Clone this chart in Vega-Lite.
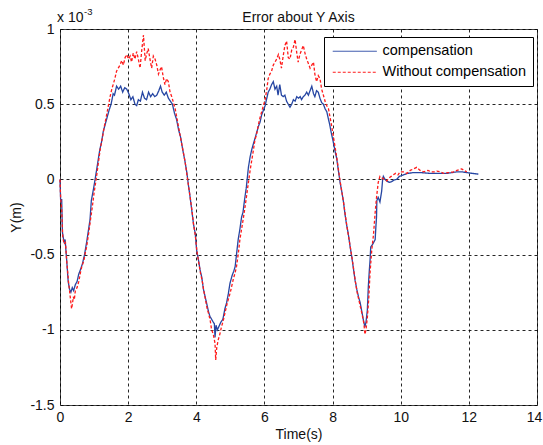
{
  "$schema": "https://vega.github.io/schema/vega-lite/v6.json",
  "width": 477,
  "height": 376,
  "autosize": {"type": "none"},
  "padding": {"left": 60, "top": 29, "right": 6, "bottom": 40},
  "background": "white",
  "title": {"text": "Error about Y Axis", "fontSize": 14, "fontWeight": "normal", "font": "Liberation Sans", "color": "#111", "offset": -18},
  "config": {
    "view": {"stroke": "#444", "strokeWidth": 1},
    "font": "Liberation Sans",
    "axis": {
      "grid": true, "gridDash": [3, 3], "gridColor": "#000", "gridOpacity": 0.85,
      "domain": false, "ticks": false,
      "labelFont": "Liberation Sans", "labelFontSize": 14, "labelColor": "#111",
      "titleFont": "Liberation Sans", "titleFontSize": 14, "titleFontWeight": "normal", "titleColor": "#111",
      "labelFlush": false
    }
  },
  "layer": [
    {
      "data": {"values": [
        {"t":0,"y":0,"s":"compensation"},{"t":0.02,"y":-0.15,"s":"compensation"},{"t":0.05,"y":-0.13,"s":"compensation"},{"t":0.07,"y":-0.35,"s":"compensation"},{"t":0.12,"y":-0.42,"s":"compensation"},{"t":0.15,"y":-0.4,"s":"compensation"},{"t":0.2,"y":-0.55,"s":"compensation"},{"t":0.24,"y":-0.68,"s":"compensation"},{"t":0.28,"y":-0.73,"s":"compensation"},{"t":0.32,"y":-0.75,"s":"compensation"},{"t":0.36,"y":-0.72,"s":"compensation"},{"t":0.4,"y":-0.74,"s":"compensation"},{"t":0.45,"y":-0.7,"s":"compensation"},{"t":0.5,"y":-0.68,"s":"compensation"},{"t":0.55,"y":-0.63,"s":"compensation"},{"t":0.6,"y":-0.6,"s":"compensation"},{"t":0.66,"y":-0.56,"s":"compensation"},{"t":0.72,"y":-0.5,"s":"compensation"},{"t":0.78,"y":-0.42,"s":"compensation"},{"t":0.84,"y":-0.33,"s":"compensation"},{"t":0.88,"y":-0.27,"s":"compensation"},{"t":0.92,"y":-0.14,"s":"compensation"},{"t":0.97,"y":-0.08,"s":"compensation"},{"t":1.03,"y":0,"s":"compensation"},{"t":1.1,"y":0.1,"s":"compensation"},{"t":1.17,"y":0.2,"s":"compensation"},{"t":1.22,"y":0.25,"s":"compensation"},{"t":1.27,"y":0.32,"s":"compensation"},{"t":1.32,"y":0.36,"s":"compensation"},{"t":1.38,"y":0.41,"s":"compensation"},{"t":1.44,"y":0.46,"s":"compensation"},{"t":1.5,"y":0.5,"s":"compensation"},{"t":1.56,"y":0.57,"s":"compensation"},{"t":1.6,"y":0.56,"s":"compensation"},{"t":1.66,"y":0.62,"s":"compensation"},{"t":1.72,"y":0.6,"s":"compensation"},{"t":1.78,"y":0.62,"s":"compensation"},{"t":1.84,"y":0.58,"s":"compensation"},{"t":1.9,"y":0.61,"s":"compensation"},{"t":1.96,"y":0.6,"s":"compensation"},{"t":2.02,"y":0.57,"s":"compensation"},{"t":2.08,"y":0.53,"s":"compensation"},{"t":2.14,"y":0.55,"s":"compensation"},{"t":2.2,"y":0.5,"s":"compensation"},{"t":2.25,"y":0.49,"s":"compensation"},{"t":2.3,"y":0.53,"s":"compensation"},{"t":2.36,"y":0.52,"s":"compensation"},{"t":2.42,"y":0.58,"s":"compensation"},{"t":2.48,"y":0.54,"s":"compensation"},{"t":2.54,"y":0.53,"s":"compensation"},{"t":2.6,"y":0.58,"s":"compensation"},{"t":2.66,"y":0.55,"s":"compensation"},{"t":2.72,"y":0.57,"s":"compensation"},{"t":2.78,"y":0.55,"s":"compensation"},{"t":2.84,"y":0.56,"s":"compensation"},{"t":2.9,"y":0.59,"s":"compensation"},{"t":2.95,"y":0.62,"s":"compensation"},{"t":3.0,"y":0.58,"s":"compensation"},{"t":3.06,"y":0.56,"s":"compensation"},{"t":3.12,"y":0.58,"s":"compensation"},{"t":3.18,"y":0.54,"s":"compensation"},{"t":3.24,"y":0.52,"s":"compensation"},{"t":3.3,"y":0.5,"s":"compensation"},{"t":3.36,"y":0.44,"s":"compensation"},{"t":3.42,"y":0.4,"s":"compensation"},{"t":3.48,"y":0.33,"s":"compensation"},{"t":3.54,"y":0.28,"s":"compensation"},{"t":3.6,"y":0.2,"s":"compensation"},{"t":3.66,"y":0.13,"s":"compensation"},{"t":3.72,"y":0.05,"s":"compensation"},{"t":3.77,"y":-0.04,"s":"compensation"},{"t":3.82,"y":-0.12,"s":"compensation"},{"t":3.87,"y":-0.21,"s":"compensation"},{"t":3.92,"y":-0.3,"s":"compensation"},{"t":3.97,"y":-0.36,"s":"compensation"},{"t":4.01,"y":-0.47,"s":"compensation"},{"t":4.06,"y":-0.53,"s":"compensation"},{"t":4.11,"y":-0.6,"s":"compensation"},{"t":4.16,"y":-0.65,"s":"compensation"},{"t":4.21,"y":-0.73,"s":"compensation"},{"t":4.26,"y":-0.78,"s":"compensation"},{"t":4.31,"y":-0.83,"s":"compensation"},{"t":4.36,"y":-0.88,"s":"compensation"},{"t":4.4,"y":-0.91,"s":"compensation"},{"t":4.45,"y":-0.93,"s":"compensation"},{"t":4.5,"y":-0.95,"s":"compensation"},{"t":4.53,"y":-0.96,"s":"compensation"},{"t":4.55,"y":-1.05,"s":"compensation"},{"t":4.58,"y":-0.97,"s":"compensation"},{"t":4.62,"y":-1.0,"s":"compensation"},{"t":4.66,"y":-0.98,"s":"compensation"},{"t":4.72,"y":-0.95,"s":"compensation"},{"t":4.78,"y":-0.93,"s":"compensation"},{"t":4.84,"y":-0.86,"s":"compensation"},{"t":4.89,"y":-0.82,"s":"compensation"},{"t":4.94,"y":-0.76,"s":"compensation"},{"t":4.99,"y":-0.69,"s":"compensation"},{"t":5.05,"y":-0.64,"s":"compensation"},{"t":5.1,"y":-0.61,"s":"compensation"},{"t":5.14,"y":-0.58,"s":"compensation"},{"t":5.19,"y":-0.48,"s":"compensation"},{"t":5.23,"y":-0.4,"s":"compensation"},{"t":5.28,"y":-0.33,"s":"compensation"},{"t":5.33,"y":-0.25,"s":"compensation"},{"t":5.37,"y":-0.22,"s":"compensation"},{"t":5.42,"y":-0.13,"s":"compensation"},{"t":5.47,"y":-0.05,"s":"compensation"},{"t":5.53,"y":0.08,"s":"compensation"},{"t":5.58,"y":0.15,"s":"compensation"},{"t":5.63,"y":0.2,"s":"compensation"},{"t":5.68,"y":0.24,"s":"compensation"},{"t":5.72,"y":0.27,"s":"compensation"},{"t":5.77,"y":0.31,"s":"compensation"},{"t":5.82,"y":0.35,"s":"compensation"},{"t":5.87,"y":0.38,"s":"compensation"},{"t":5.92,"y":0.43,"s":"compensation"},{"t":5.97,"y":0.46,"s":"compensation"},{"t":6.02,"y":0.49,"s":"compensation"},{"t":6.07,"y":0.54,"s":"compensation"},{"t":6.11,"y":0.58,"s":"compensation"},{"t":6.16,"y":0.6,"s":"compensation"},{"t":6.21,"y":0.63,"s":"compensation"},{"t":6.26,"y":0.65,"s":"compensation"},{"t":6.31,"y":0.6,"s":"compensation"},{"t":6.36,"y":0.62,"s":"compensation"},{"t":6.4,"y":0.56,"s":"compensation"},{"t":6.45,"y":0.63,"s":"compensation"},{"t":6.5,"y":0.56,"s":"compensation"},{"t":6.55,"y":0.55,"s":"compensation"},{"t":6.6,"y":0.56,"s":"compensation"},{"t":6.65,"y":0.52,"s":"compensation"},{"t":6.7,"y":0.5,"s":"compensation"},{"t":6.75,"y":0.48,"s":"compensation"},{"t":6.8,"y":0.5,"s":"compensation"},{"t":6.85,"y":0.53,"s":"compensation"},{"t":6.9,"y":0.52,"s":"compensation"},{"t":6.95,"y":0.55,"s":"compensation"},{"t":7.0,"y":0.54,"s":"compensation"},{"t":7.05,"y":0.55,"s":"compensation"},{"t":7.09,"y":0.53,"s":"compensation"},{"t":7.14,"y":0.55,"s":"compensation"},{"t":7.19,"y":0.56,"s":"compensation"},{"t":7.24,"y":0.58,"s":"compensation"},{"t":7.29,"y":0.56,"s":"compensation"},{"t":7.34,"y":0.59,"s":"compensation"},{"t":7.39,"y":0.62,"s":"compensation"},{"t":7.44,"y":0.57,"s":"compensation"},{"t":7.48,"y":0.55,"s":"compensation"},{"t":7.53,"y":0.59,"s":"compensation"},{"t":7.58,"y":0.58,"s":"compensation"},{"t":7.63,"y":0.54,"s":"compensation"},{"t":7.68,"y":0.51,"s":"compensation"},{"t":7.73,"y":0.5,"s":"compensation"},{"t":7.78,"y":0.47,"s":"compensation"},{"t":7.83,"y":0.45,"s":"compensation"},{"t":7.88,"y":0.4,"s":"compensation"},{"t":7.92,"y":0.36,"s":"compensation"},{"t":7.97,"y":0.3,"s":"compensation"},{"t":8.02,"y":0.25,"s":"compensation"},{"t":8.07,"y":0.19,"s":"compensation"},{"t":8.12,"y":0.14,"s":"compensation"},{"t":8.17,"y":0.06,"s":"compensation"},{"t":8.22,"y":-0.02,"s":"compensation"},{"t":8.27,"y":-0.08,"s":"compensation"},{"t":8.32,"y":-0.15,"s":"compensation"},{"t":8.37,"y":-0.24,"s":"compensation"},{"t":8.41,"y":-0.3,"s":"compensation"},{"t":8.46,"y":-0.36,"s":"compensation"},{"t":8.51,"y":-0.44,"s":"compensation"},{"t":8.56,"y":-0.51,"s":"compensation"},{"t":8.61,"y":-0.59,"s":"compensation"},{"t":8.66,"y":-0.67,"s":"compensation"},{"t":8.71,"y":-0.73,"s":"compensation"},{"t":8.76,"y":-0.78,"s":"compensation"},{"t":8.81,"y":-0.82,"s":"compensation"},{"t":8.86,"y":-0.88,"s":"compensation"},{"t":8.9,"y":-0.93,"s":"compensation"},{"t":8.95,"y":-0.98,"s":"compensation"},{"t":8.98,"y":-0.95,"s":"compensation"},{"t":9.02,"y":-0.87,"s":"compensation"},{"t":9.05,"y":-0.71,"s":"compensation"},{"t":9.08,"y":-0.6,"s":"compensation"},{"t":9.1,"y":-0.54,"s":"compensation"},{"t":9.12,"y":-0.45,"s":"compensation"},{"t":9.18,"y":-0.43,"s":"compensation"},{"t":9.25,"y":-0.4,"s":"compensation"},{"t":9.27,"y":-0.32,"s":"compensation"},{"t":9.29,"y":-0.25,"s":"compensation"},{"t":9.3,"y":-0.14,"s":"compensation"},{"t":9.34,"y":-0.12,"s":"compensation"},{"t":9.39,"y":-0.15,"s":"compensation"},{"t":9.44,"y":-0.08,"s":"compensation"},{"t":9.47,"y":0.0,"s":"compensation"},{"t":9.49,"y":0.02,"s":"compensation"},{"t":9.54,"y":0.0,"s":"compensation"},{"t":9.59,"y":-0.01,"s":"compensation"},{"t":9.66,"y":-0.02,"s":"compensation"},{"t":9.73,"y":-0.015,"s":"compensation"},{"t":9.8,"y":-0.005,"s":"compensation"},{"t":9.88,"y":0.0,"s":"compensation"},{"t":9.96,"y":0.02,"s":"compensation"},{"t":10.08,"y":0.03,"s":"compensation"},{"t":10.2,"y":0.04,"s":"compensation"},{"t":10.37,"y":0.045,"s":"compensation"},{"t":10.6,"y":0.045,"s":"compensation"},{"t":10.86,"y":0.04,"s":"compensation"},{"t":11.1,"y":0.04,"s":"compensation"},{"t":11.35,"y":0.04,"s":"compensation"},{"t":11.5,"y":0.045,"s":"compensation"},{"t":11.64,"y":0.05,"s":"compensation"},{"t":11.8,"y":0.05,"s":"compensation"},{"t":11.94,"y":0.045,"s":"compensation"},{"t":12.1,"y":0.04,"s":"compensation"},{"t":12.28,"y":0.035,"s":"compensation"},
        {"t":0,"y":0,"s":"Without compensation"},{"t":0.02,"y":-0.13,"s":"Without compensation"},{"t":0.05,"y":-0.2,"s":"Without compensation"},{"t":0.08,"y":-0.38,"s":"Without compensation"},{"t":0.12,"y":-0.43,"s":"Without compensation"},{"t":0.16,"y":-0.42,"s":"Without compensation"},{"t":0.2,"y":-0.55,"s":"Without compensation"},{"t":0.25,"y":-0.68,"s":"Without compensation"},{"t":0.29,"y":-0.76,"s":"Without compensation"},{"t":0.32,"y":-0.82,"s":"Without compensation"},{"t":0.34,"y":-0.86,"s":"Without compensation"},{"t":0.37,"y":-0.82,"s":"Without compensation"},{"t":0.39,"y":-0.78,"s":"Without compensation"},{"t":0.42,"y":-0.8,"s":"Without compensation"},{"t":0.45,"y":-0.74,"s":"Without compensation"},{"t":0.5,"y":-0.72,"s":"Without compensation"},{"t":0.55,"y":-0.68,"s":"Without compensation"},{"t":0.6,"y":-0.62,"s":"Without compensation"},{"t":0.64,"y":-0.58,"s":"Without compensation"},{"t":0.7,"y":-0.54,"s":"Without compensation"},{"t":0.75,"y":-0.48,"s":"Without compensation"},{"t":0.78,"y":-0.45,"s":"Without compensation"},{"t":0.84,"y":-0.36,"s":"Without compensation"},{"t":0.9,"y":-0.26,"s":"Without compensation"},{"t":0.95,"y":-0.18,"s":"Without compensation"},{"t":1.0,"y":-0.09,"s":"Without compensation"},{"t":1.06,"y":0.0,"s":"Without compensation"},{"t":1.12,"y":0.1,"s":"Without compensation"},{"t":1.18,"y":0.2,"s":"Without compensation"},{"t":1.24,"y":0.27,"s":"Without compensation"},{"t":1.3,"y":0.35,"s":"Without compensation"},{"t":1.37,"y":0.43,"s":"Without compensation"},{"t":1.42,"y":0.49,"s":"Without compensation"},{"t":1.47,"y":0.55,"s":"Without compensation"},{"t":1.52,"y":0.6,"s":"Without compensation"},{"t":1.56,"y":0.63,"s":"Without compensation"},{"t":1.61,"y":0.67,"s":"Without compensation"},{"t":1.66,"y":0.72,"s":"Without compensation"},{"t":1.71,"y":0.74,"s":"Without compensation"},{"t":1.76,"y":0.76,"s":"Without compensation"},{"t":1.81,"y":0.79,"s":"Without compensation"},{"t":1.86,"y":0.76,"s":"Without compensation"},{"t":1.91,"y":0.81,"s":"Without compensation"},{"t":1.96,"y":0.83,"s":"Without compensation"},{"t":2.01,"y":0.8,"s":"Without compensation"},{"t":2.06,"y":0.82,"s":"Without compensation"},{"t":2.1,"y":0.78,"s":"Without compensation"},{"t":2.15,"y":0.84,"s":"Without compensation"},{"t":2.2,"y":0.8,"s":"Without compensation"},{"t":2.25,"y":0.85,"s":"Without compensation"},{"t":2.3,"y":0.8,"s":"Without compensation"},{"t":2.35,"y":0.74,"s":"Without compensation"},{"t":2.4,"y":0.86,"s":"Without compensation"},{"t":2.45,"y":0.96,"s":"Without compensation"},{"t":2.5,"y":0.79,"s":"Without compensation"},{"t":2.55,"y":0.84,"s":"Without compensation"},{"t":2.59,"y":0.87,"s":"Without compensation"},{"t":2.64,"y":0.8,"s":"Without compensation"},{"t":2.69,"y":0.74,"s":"Without compensation"},{"t":2.74,"y":0.82,"s":"Without compensation"},{"t":2.79,"y":0.8,"s":"Without compensation"},{"t":2.84,"y":0.76,"s":"Without compensation"},{"t":2.89,"y":0.7,"s":"Without compensation"},{"t":2.94,"y":0.73,"s":"Without compensation"},{"t":2.98,"y":0.75,"s":"Without compensation"},{"t":3.03,"y":0.68,"s":"Without compensation"},{"t":3.08,"y":0.63,"s":"Without compensation"},{"t":3.13,"y":0.67,"s":"Without compensation"},{"t":3.18,"y":0.65,"s":"Without compensation"},{"t":3.23,"y":0.58,"s":"Without compensation"},{"t":3.28,"y":0.55,"s":"Without compensation"},{"t":3.33,"y":0.51,"s":"Without compensation"},{"t":3.38,"y":0.47,"s":"Without compensation"},{"t":3.43,"y":0.41,"s":"Without compensation"},{"t":3.47,"y":0.36,"s":"Without compensation"},{"t":3.52,"y":0.3,"s":"Without compensation"},{"t":3.57,"y":0.24,"s":"Without compensation"},{"t":3.62,"y":0.18,"s":"Without compensation"},{"t":3.67,"y":0.12,"s":"Without compensation"},{"t":3.72,"y":0.04,"s":"Without compensation"},{"t":3.77,"y":-0.04,"s":"Without compensation"},{"t":3.82,"y":-0.12,"s":"Without compensation"},{"t":3.87,"y":-0.2,"s":"Without compensation"},{"t":3.92,"y":-0.3,"s":"Without compensation"},{"t":3.97,"y":-0.37,"s":"Without compensation"},{"t":4.02,"y":-0.48,"s":"Without compensation"},{"t":4.07,"y":-0.55,"s":"Without compensation"},{"t":4.12,"y":-0.62,"s":"Without compensation"},{"t":4.17,"y":-0.67,"s":"Without compensation"},{"t":4.22,"y":-0.74,"s":"Without compensation"},{"t":4.27,"y":-0.8,"s":"Without compensation"},{"t":4.32,"y":-0.86,"s":"Without compensation"},{"t":4.37,"y":-0.9,"s":"Without compensation"},{"t":4.41,"y":-0.94,"s":"Without compensation"},{"t":4.45,"y":-1.0,"s":"Without compensation"},{"t":4.5,"y":-1.03,"s":"Without compensation"},{"t":4.55,"y":-1.09,"s":"Without compensation"},{"t":4.57,"y":-1.2,"s":"Without compensation"},{"t":4.6,"y":-1.12,"s":"Without compensation"},{"t":4.64,"y":-1.07,"s":"Without compensation"},{"t":4.69,"y":-1.03,"s":"Without compensation"},{"t":4.74,"y":-0.98,"s":"Without compensation"},{"t":4.79,"y":-0.94,"s":"Without compensation"},{"t":4.85,"y":-0.88,"s":"Without compensation"},{"t":4.9,"y":-0.83,"s":"Without compensation"},{"t":4.95,"y":-0.79,"s":"Without compensation"},{"t":5.0,"y":-0.75,"s":"Without compensation"},{"t":5.04,"y":-0.71,"s":"Without compensation"},{"t":5.09,"y":-0.66,"s":"Without compensation"},{"t":5.14,"y":-0.62,"s":"Without compensation"},{"t":5.18,"y":-0.58,"s":"Without compensation"},{"t":5.23,"y":-0.5,"s":"Without compensation"},{"t":5.28,"y":-0.4,"s":"Without compensation"},{"t":5.33,"y":-0.33,"s":"Without compensation"},{"t":5.38,"y":-0.26,"s":"Without compensation"},{"t":5.42,"y":-0.2,"s":"Without compensation"},{"t":5.47,"y":-0.12,"s":"Without compensation"},{"t":5.53,"y":-0.02,"s":"Without compensation"},{"t":5.58,"y":0.06,"s":"Without compensation"},{"t":5.63,"y":0.13,"s":"Without compensation"},{"t":5.68,"y":0.2,"s":"Without compensation"},{"t":5.72,"y":0.26,"s":"Without compensation"},{"t":5.77,"y":0.3,"s":"Without compensation"},{"t":5.82,"y":0.36,"s":"Without compensation"},{"t":5.87,"y":0.41,"s":"Without compensation"},{"t":5.92,"y":0.45,"s":"Without compensation"},{"t":5.97,"y":0.49,"s":"Without compensation"},{"t":6.02,"y":0.53,"s":"Without compensation"},{"t":6.07,"y":0.6,"s":"Without compensation"},{"t":6.11,"y":0.67,"s":"Without compensation"},{"t":6.16,"y":0.7,"s":"Without compensation"},{"t":6.21,"y":0.72,"s":"Without compensation"},{"t":6.26,"y":0.76,"s":"Without compensation"},{"t":6.31,"y":0.78,"s":"Without compensation"},{"t":6.36,"y":0.8,"s":"Without compensation"},{"t":6.41,"y":0.83,"s":"Without compensation"},{"t":6.45,"y":0.8,"s":"Without compensation"},{"t":6.5,"y":0.74,"s":"Without compensation"},{"t":6.55,"y":0.82,"s":"Without compensation"},{"t":6.6,"y":0.89,"s":"Without compensation"},{"t":6.65,"y":0.92,"s":"Without compensation"},{"t":6.7,"y":0.81,"s":"Without compensation"},{"t":6.75,"y":0.8,"s":"Without compensation"},{"t":6.8,"y":0.86,"s":"Without compensation"},{"t":6.85,"y":0.88,"s":"Without compensation"},{"t":6.9,"y":0.93,"s":"Without compensation"},{"t":6.95,"y":0.84,"s":"Without compensation"},{"t":6.99,"y":0.78,"s":"Without compensation"},{"t":7.04,"y":0.83,"s":"Without compensation"},{"t":7.09,"y":0.86,"s":"Without compensation"},{"t":7.14,"y":0.89,"s":"Without compensation"},{"t":7.19,"y":0.84,"s":"Without compensation"},{"t":7.24,"y":0.8,"s":"Without compensation"},{"t":7.29,"y":0.77,"s":"Without compensation"},{"t":7.34,"y":0.74,"s":"Without compensation"},{"t":7.39,"y":0.76,"s":"Without compensation"},{"t":7.44,"y":0.78,"s":"Without compensation"},{"t":7.48,"y":0.7,"s":"Without compensation"},{"t":7.53,"y":0.65,"s":"Without compensation"},{"t":7.58,"y":0.69,"s":"Without compensation"},{"t":7.63,"y":0.67,"s":"Without compensation"},{"t":7.68,"y":0.6,"s":"Without compensation"},{"t":7.73,"y":0.56,"s":"Without compensation"},{"t":7.78,"y":0.52,"s":"Without compensation"},{"t":7.83,"y":0.49,"s":"Without compensation"},{"t":7.88,"y":0.47,"s":"Without compensation"},{"t":7.92,"y":0.42,"s":"Without compensation"},{"t":7.97,"y":0.36,"s":"Without compensation"},{"t":8.02,"y":0.29,"s":"Without compensation"},{"t":8.07,"y":0.22,"s":"Without compensation"},{"t":8.12,"y":0.15,"s":"Without compensation"},{"t":8.17,"y":0.07,"s":"Without compensation"},{"t":8.22,"y":-0.01,"s":"Without compensation"},{"t":8.27,"y":-0.08,"s":"Without compensation"},{"t":8.32,"y":-0.15,"s":"Without compensation"},{"t":8.37,"y":-0.23,"s":"Without compensation"},{"t":8.42,"y":-0.31,"s":"Without compensation"},{"t":8.47,"y":-0.38,"s":"Without compensation"},{"t":8.52,"y":-0.45,"s":"Without compensation"},{"t":8.57,"y":-0.52,"s":"Without compensation"},{"t":8.62,"y":-0.6,"s":"Without compensation"},{"t":8.67,"y":-0.68,"s":"Without compensation"},{"t":8.72,"y":-0.75,"s":"Without compensation"},{"t":8.77,"y":-0.8,"s":"Without compensation"},{"t":8.82,"y":-0.85,"s":"Without compensation"},{"t":8.87,"y":-0.9,"s":"Without compensation"},{"t":8.92,"y":-0.96,"s":"Without compensation"},{"t":8.95,"y":-1.03,"s":"Without compensation"},{"t":8.98,"y":-1.0,"s":"Without compensation"},{"t":9.02,"y":-0.92,"s":"Without compensation"},{"t":9.06,"y":-0.8,"s":"Without compensation"},{"t":9.1,"y":-0.62,"s":"Without compensation"},{"t":9.15,"y":-0.47,"s":"Without compensation"},{"t":9.2,"y":-0.37,"s":"Without compensation"},{"t":9.25,"y":-0.22,"s":"Without compensation"},{"t":9.29,"y":-0.12,"s":"Without compensation"},{"t":9.34,"y":-0.02,"s":"Without compensation"},{"t":9.39,"y":0.02,"s":"Without compensation"},{"t":9.45,"y":0.01,"s":"Without compensation"},{"t":9.52,"y":0.0,"s":"Without compensation"},{"t":9.59,"y":-0.01,"s":"Without compensation"},{"t":9.66,"y":0.01,"s":"Without compensation"},{"t":9.72,"y":0.02,"s":"Without compensation"},{"t":9.78,"y":0.03,"s":"Without compensation"},{"t":9.85,"y":0.04,"s":"Without compensation"},{"t":9.92,"y":0.03,"s":"Without compensation"},{"t":9.98,"y":0.05,"s":"Without compensation"},{"t":10.08,"y":0.05,"s":"Without compensation"},{"t":10.18,"y":0.04,"s":"Without compensation"},{"t":10.28,"y":0.06,"s":"Without compensation"},{"t":10.38,"y":0.07,"s":"Without compensation"},{"t":10.47,"y":0.08,"s":"Without compensation"},{"t":10.57,"y":0.06,"s":"Without compensation"},{"t":10.67,"y":0.05,"s":"Without compensation"},{"t":10.8,"y":0.06,"s":"Without compensation"},{"t":10.9,"y":0.05,"s":"Without compensation"},{"t":11.0,"y":0.05,"s":"Without compensation"},{"t":11.06,"y":0.055,"s":"Without compensation"},{"t":11.16,"y":0.05,"s":"Without compensation"},{"t":11.26,"y":0.04,"s":"Without compensation"},{"t":11.4,"y":0.045,"s":"Without compensation"},{"t":11.55,"y":0.05,"s":"Without compensation"},{"t":11.65,"y":0.06,"s":"Without compensation"},{"t":11.72,"y":0.065,"s":"Without compensation"},{"t":11.79,"y":0.07,"s":"Without compensation"},{"t":11.86,"y":0.06,"s":"Without compensation"},{"t":11.94,"y":0.05,"s":"Without compensation"}
      ]},
      "mark": {"type": "line", "strokeWidth": 1.3},
      "encoding": {
        "x": {"field": "t", "type": "quantitative", "title": "Time(s)",
              "scale": {"domain": [0, 14], "nice": false, "zero": false},
              "axis": {"values": [0, 2, 4, 6, 8, 10, 12, 14], "labelPadding": 5, "titlePadding": 3,
                       "labelOffset": {"condition": {"test": "datum.value === 14", "value": -3}, "value": 0}}},
        "y": {"field": "y", "type": "quantitative", "title": "Y(m)",
              "scale": {"domain": [-1.5, 1], "nice": false, "zero": false},
              "axis": {"values": [-1.5, -1, -0.5, 0, 0.5, 1], "labelExpr": "'' + datum.value", "labelPadding": 6, "titlePadding": 6}},
        "color": {"field": "s", "type": "nominal",
                  "scale": {"domain": ["compensation", "Without compensation"], "range": ["#2646a3", "#ff1a1a"]},
                  "legend": {"orient": "none", "legendX": 264, "legendY": 8, "title": null,
                             "strokeColor": "#000", "fillColor": "#fff", "padding": 7, "cornerRadius": 0,
                             "symbolType": "M-1,0H7", "symbolSize": 121, "symbolStrokeWidth": 1,
                             "labelFont": "Liberation Sans", "labelFontSize": 14.5, "labelColor": "#000",
                             "labelOffset": 37, "rowPadding": 6}},
        "strokeDash": {"field": "s", "type": "nominal",
                       "scale": {"domain": ["compensation", "Without compensation"], "range": [[1, 0], [3, 2]]},
                       "legend": {"orient": "none", "legendX": 264, "legendY": 8, "title": null}}
      }
    },
    {
      "data": {"values": [{"t": 0, "y": 1, "label": "x 10"}]},
      "mark": {"type": "text", "align": "left", "baseline": "alphabetic", "dx": -3, "dy": -7, "fontSize": 14, "font": "Liberation Sans", "color": "#111"},
      "encoding": {
        "x": {"field": "t", "type": "quantitative"},
        "y": {"field": "y", "type": "quantitative"},
        "text": {"field": "label"}
      }
    },
    {
      "data": {"values": [{"t": 0, "y": 1, "label": "-3"}]},
      "mark": {"type": "text", "align": "left", "baseline": "alphabetic", "dx": 24, "dy": -14, "fontSize": 9.5, "font": "Liberation Sans", "color": "#111"},
      "encoding": {
        "x": {"field": "t", "type": "quantitative"},
        "y": {"field": "y", "type": "quantitative"},
        "text": {"field": "label"}
      }
    }
  ]
}
